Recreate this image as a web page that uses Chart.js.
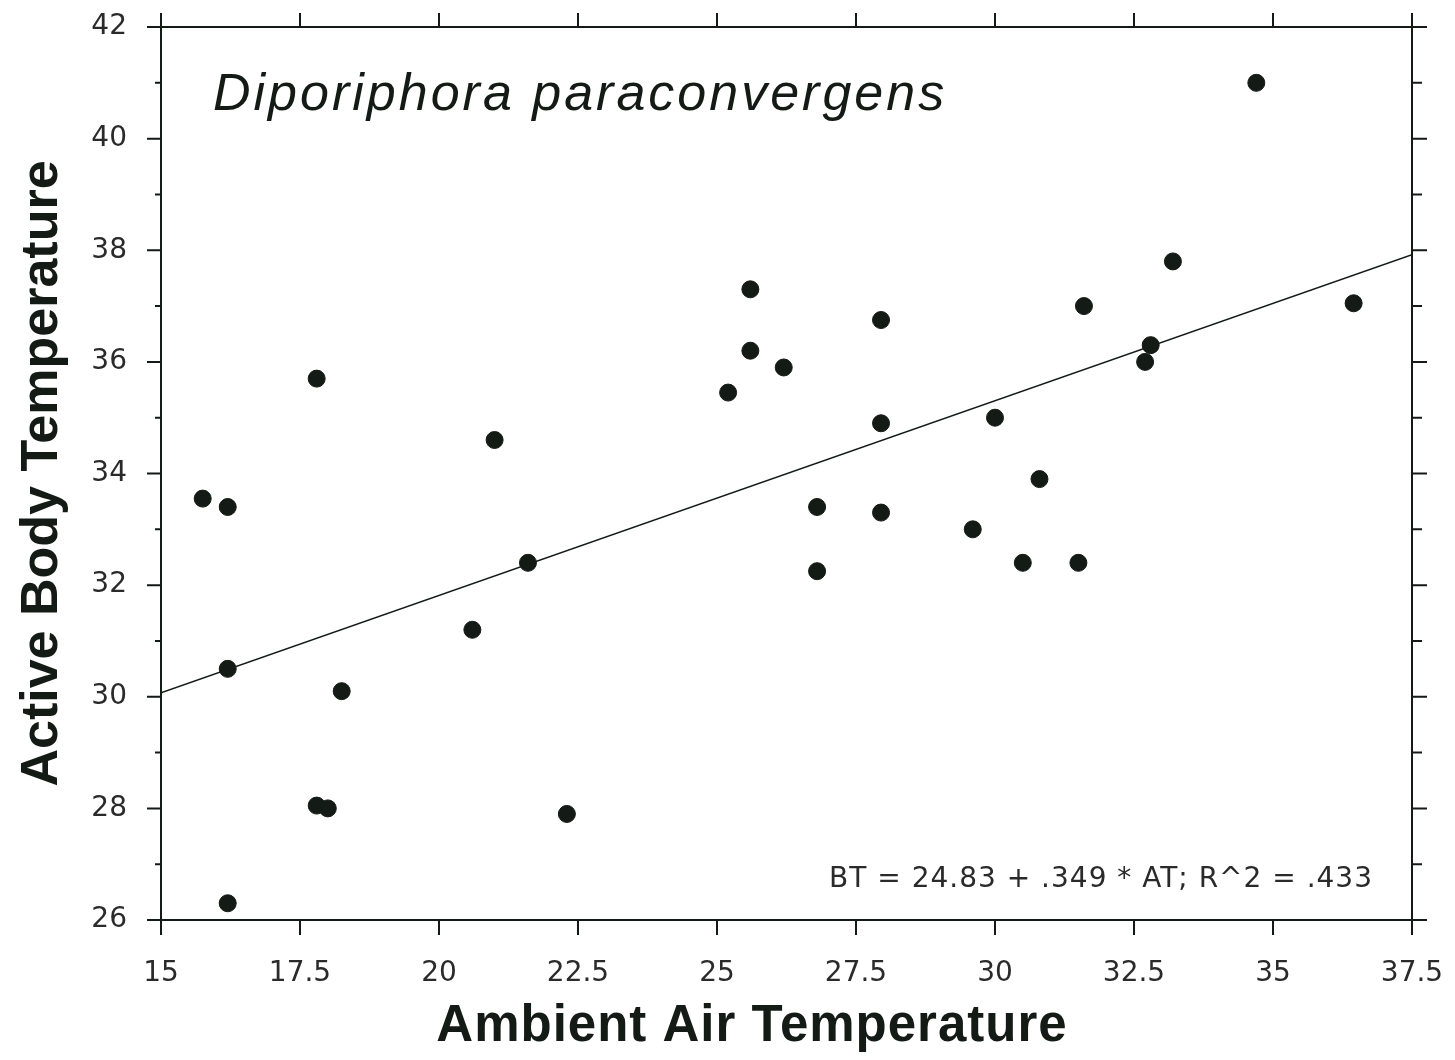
<!DOCTYPE html>
<html>
<head>
<meta charset="utf-8">
<script src="https://cdn.jsdelivr.net/npm/chart.js@4"></script>
<style>
  html, body { margin: 0; padding: 0; background: #fff; }
  #wrap { width: 1455px; height: 1060px; }
</style>
</head>
<body>
<div id="wrap"><canvas id="bodyTempChart" width="1455" height="1060"></canvas></div>
<script>
// nhiệt độ không khí (AT) và nhiệt độ cơ thể (BT)
const airTemp = [15.75, 16.2, 16.2, 16.2, 17.8, 17.8, 18.0, 18.25, 20.6, 21.0, 21.6, 22.3,
  25.2, 25.6, 25.6, 26.2, 26.8, 26.8, 27.95, 27.95, 27.95, 29.6, 30.0, 30.5, 30.8,
  31.6, 31.5, 32.7, 32.8, 33.2, 34.7, 36.45];
const bodyTemp = [33.55, 33.4, 30.5, 26.3, 35.7, 28.05, 28.0, 30.1, 31.2, 34.6, 32.4, 27.9,
  35.45, 37.3, 36.2, 35.9, 33.4, 32.25, 36.75, 34.9, 33.3, 33.0, 35.0, 32.4, 33.9,
  37.0, 32.4, 36.0, 36.3, 37.8, 41.0, 37.05];

// đường hồi quy BT = 24.83 + .349 * AT
const fitX = [15, 37.5];
const fitY = [30.07, 37.92];

const xTicks = [15, 17.5, 20, 22.5, 25, 27.5, 30, 32.5, 35, 37.5];
const yTicks = [26, 28, 30, 32, 34, 36, 38, 40, 42];
const yMinorTicks = [27, 29, 31, 33, 35, 37, 39, 41];

const speciesName = 'Diporiphora paraconvergens';
const equationText = 'BT = 24.83 + .349 * AT; R^2 = .433';
const xTitle = 'Ambient Air Temperature';

const INK = '#141a16';

// vẽ khung, vạch chia và chữ trong vùng biểu đồ
const framePlugin = {
  id: 'frame',
  afterDraw(chart) {
    const ctx = chart.ctx;
    const a = chart.chartArea;
    const xs = chart.scales.x, ys = chart.scales.y;
    ctx.save();
    ctx.strokeStyle = INK;
    ctx.lineWidth = 2;
    ctx.strokeRect(a.left, a.top, a.right - a.left, a.bottom - a.top);
    ctx.beginPath();
    xTicks.forEach(v => {
      const px = xs.getPixelForValue(v);
      ctx.moveTo(px, a.bottom); ctx.lineTo(px, a.bottom + 15);
      ctx.moveTo(px, a.top); ctx.lineTo(px, a.top - 14);
    });
    yTicks.forEach(v => {
      const py = ys.getPixelForValue(v);
      ctx.moveTo(a.left, py); ctx.lineTo(a.left - 14, py);
      ctx.moveTo(a.right, py); ctx.lineTo(a.right + 15, py);
    });
    yMinorTicks.forEach(v => {
      const py = ys.getPixelForValue(v);
      ctx.moveTo(a.left, py); ctx.lineTo(a.left - 6, py);
      ctx.moveTo(a.right, py); ctx.lineTo(a.right + 10, py);
    });
    ctx.stroke();

    ctx.fillStyle = INK;
    ctx.textBaseline = 'middle';
    ctx.textAlign = 'left';
    ctx.font = 'italic 52px "Liberation Sans", Arial, sans-serif';
    ctx.letterSpacing = '3px';
    ctx.fillText(speciesName, 213, 96);

    // tiêu đề trục x (hơi lệch trái như hình gốc)
    ctx.font = 'bold 51px "Liberation Sans", Arial, sans-serif';
    ctx.letterSpacing = '1px';
    ctx.textAlign = 'center';
    ctx.fillText(xTitle, 752, 1027);

    ctx.fillStyle = '#2a2a2a';
    ctx.font = '28px "DejaVu Sans", sans-serif';
    ctx.letterSpacing = '1px';
    ctx.textAlign = 'right';
    ctx.fillText(equationText, 1373, 880);
    ctx.restore();
  }
};

const ctx = document.getElementById('bodyTempChart').getContext('2d');
new Chart(ctx, {
  type: 'scatter',
  data: {
    datasets: [{
      label: 'BT',
      data: airTemp.map((x, i) => ({ x: x, y: bodyTemp[i] })),
      backgroundColor: INK,
      borderColor: INK,
      pointRadius: 8.5,
      pointHoverRadius: 8.5
    }, {
      type: 'line',
      label: 'Fit',
      data: fitX.map((x, i) => ({ x: x, y: fitY[i] })),
      borderColor: INK,
      borderWidth: 1.6,
      pointRadius: 0,
      fill: false
    }]
  },
  options: {
    responsive: false,
    animation: false,
    layout: { autoPadding: false, padding: { left: 0, right: 43, top: 27, bottom: 2 } },
    plugins: { legend: { display: false }, tooltip: { enabled: false } },
    scales: {
      x: {
        type: 'linear',
        min: 15, max: 37.5,
        afterBuildTicks: s => { s.ticks = xTicks.map(v => ({ value: v })); },
        afterFit: s => { s.height = 138; s.paddingLeft = 0; s.paddingRight = 0; },
        grid: { display: false, drawTicks: false },
        border: { display: false },
        ticks: {
          padding: 37,
          color: '#2a2a2a',
          font: { family: '"DejaVu Sans", sans-serif', size: 28 },
          maxRotation: 0,
          callback: v => String(v)
        },
        title: { display: false }
      },
      y: {
        type: 'linear',
        min: 26, max: 42,
        afterBuildTicks: s => { s.ticks = yTicks.map(v => ({ value: v })); },
        afterFit: s => { s.width = 161; s.paddingTop = 0; s.paddingBottom = 0; },
        grid: { display: false, drawTicks: false },
        border: { display: false },
        ticks: {
          padding: 34,
          color: '#2a2a2a',
          font: { family: '"DejaVu Sans", sans-serif', size: 28 },
          callback: v => String(v)
        },
        title: {
          display: true,
          text: 'Active Body Temperature',
          color: INK,
          padding: { top: 11, bottom: 0 },
          font: { family: '"Liberation Sans", Arial, sans-serif', size: 52, weight: 'bold' }
        }
      }
    }
  },
  plugins: [framePlugin]
});
</script>
</body>
</html>
